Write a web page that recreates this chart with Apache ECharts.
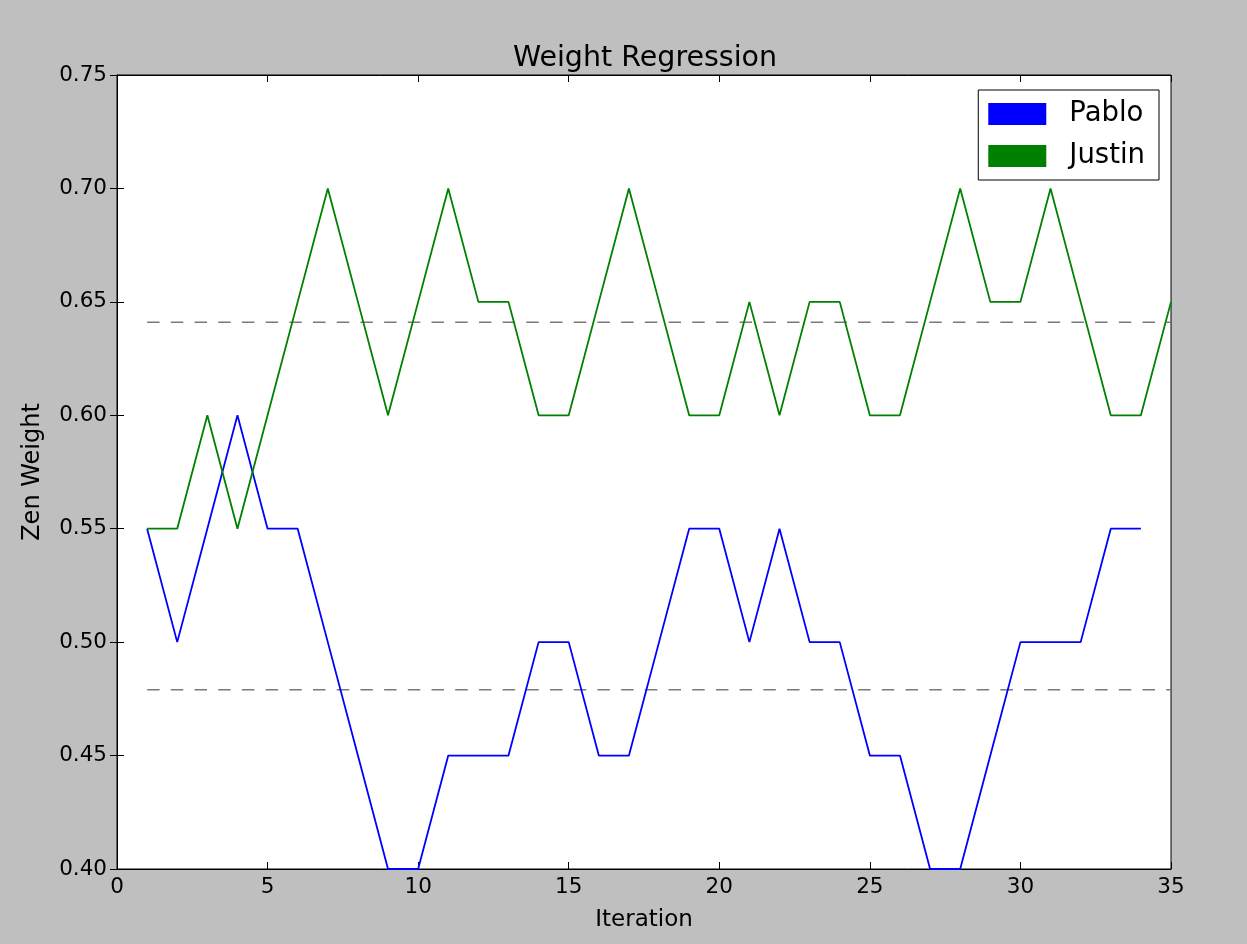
<!DOCTYPE html>
<html><head><meta charset="utf-8">
<script src="https://cdn.jsdelivr.net/npm/echarts@6/dist/echarts.min.js"></script>
<style>html,body{margin:0;padding:0;background:#bfbfbf;}#c{width:1247px;height:944px;}</style>
</head><body><div id="c"></div>
<script>
const iterations = Array.from({length: 35}, (_, i) => i + 1);
const pablo = [0.55,0.50,0.55,0.60,0.55,0.55,0.50,0.45,0.40,0.40,0.45,0.45,0.45,0.50,0.50,0.45,0.45,0.50,0.55,0.55,0.50,0.55,0.50,0.50,0.45,0.45,0.40,0.40,0.45,0.50,0.50,0.50,0.55,0.55];
const justin = [0.55,0.55,0.60,0.55,0.60,0.65,0.70,0.65,0.60,0.65,0.70,0.65,0.65,0.60,0.60,0.65,0.70,0.65,0.60,0.60,0.65,0.60,0.65,0.65,0.60,0.60,0.65,0.70,0.65,0.65,0.70,0.65,0.60,0.60,0.65];
const pabloRef = 0.479;
const justinRef = 0.641;
const refRange = [1, 35];
const xTicks = [0, 5, 10, 15, 20, 25, 30, 35];
const yTicks = ['0.40','0.45','0.50','0.55','0.60','0.65','0.70','0.75'];

const font = 'DejaVu Sans';
const chart = echarts.init(document.getElementById('c'));
const axisCommon = {
  axisLine: {show: true, lineStyle: {color: '#000', width: 1}},
  axisTick: {show: true, inside: true, length: 7, lineStyle: {color: '#000'}},
  splitLine: {show: false}
};
chart.setOption({
  backgroundColor: '#bfbfbf',
  animation: false,
  title: {text: 'Weight Regression', left: 640, top: 39, textAlign: 'center',
    textStyle: {fontFamily: font, fontSize: 28.5, fontWeight: 'normal', color: '#000'}},
  legend: {
    right: 88, top: 90, orient: 'vertical', icon: 'rect', itemWidth: 58, itemHeight: 22, itemGap: 14,
    padding: [10, 14, 10, 10], borderColor: '#000', borderWidth: 1, backgroundColor: '#fff', borderRadius: 0,
    textStyle: {fontFamily: font, fontSize: 27.5, color: '#000', padding: [0, 0, 0, 18]},
    data: ['Pablo', 'Justin']
  },
  grid: {left: 117, right: 76, top: 75, bottom: 75, show: true, backgroundColor: '#fff', borderColor: '#000', borderWidth: 1},
  xAxis: [
    Object.assign({type: 'value', min: 0, max: 35, interval: 5, name: 'Iteration', nameLocation: 'middle', nameGap: 40,
      nameTextStyle: {fontFamily: font, fontSize: 23, color: '#000'},
      axisLabel: {fontFamily: font, fontSize: 21.5, color: '#000', margin: 7}}, axisCommon),
    Object.assign({type: 'value', position: 'top', min: 0, max: 35, interval: 5, axisLabel: {show: false}}, axisCommon)
  ],
  yAxis: [
    Object.assign({type: 'value', min: 0.40, max: 0.75, interval: 0.05, name: 'Zen Weight', nameLocation: 'middle', nameGap: 72,
      nameTextStyle: {fontFamily: font, fontSize: 24, color: '#000'},
      axisLabel: {fontFamily: font, fontSize: 21.5, color: '#000', margin: 10, formatter: v => v.toFixed(2)}}, axisCommon),
    Object.assign({type: 'value', position: 'right', min: 0.40, max: 0.75, interval: 0.05, axisLabel: {show: false}}, axisCommon)
  ],
  series: [
    {name: 'Pablo', type: 'line', data: pablo.map((v, i) => [iterations[i], v]), showSymbol: false, symbol: 'none',
      lineStyle: {color: '#0000ff', width: 1.8}, itemStyle: {color: '#0000ff'}, clip: false, z: 3},
    {name: 'Justin', type: 'line', data: justin.map((v, i) => [iterations[i], v]), showSymbol: false, symbol: 'none',
      lineStyle: {color: '#008000', width: 1.8}, itemStyle: {color: '#008000'}, clip: false, z: 3},
    {name: 'pabloMean', type: 'line', data: refRange.map(x => [x, pabloRef]), symbol: 'none',
      lineStyle: {color: '#7a7a7a', width: 1.6, type: [12.5, 11.2]}, z: 2},
    {name: 'justinMean', type: 'line', data: refRange.map(x => [x, justinRef]), symbol: 'none',
      lineStyle: {color: '#7a7a7a', width: 1.6, type: [12.5, 11.2]}, z: 2}
  ]
});
</script></body></html>
